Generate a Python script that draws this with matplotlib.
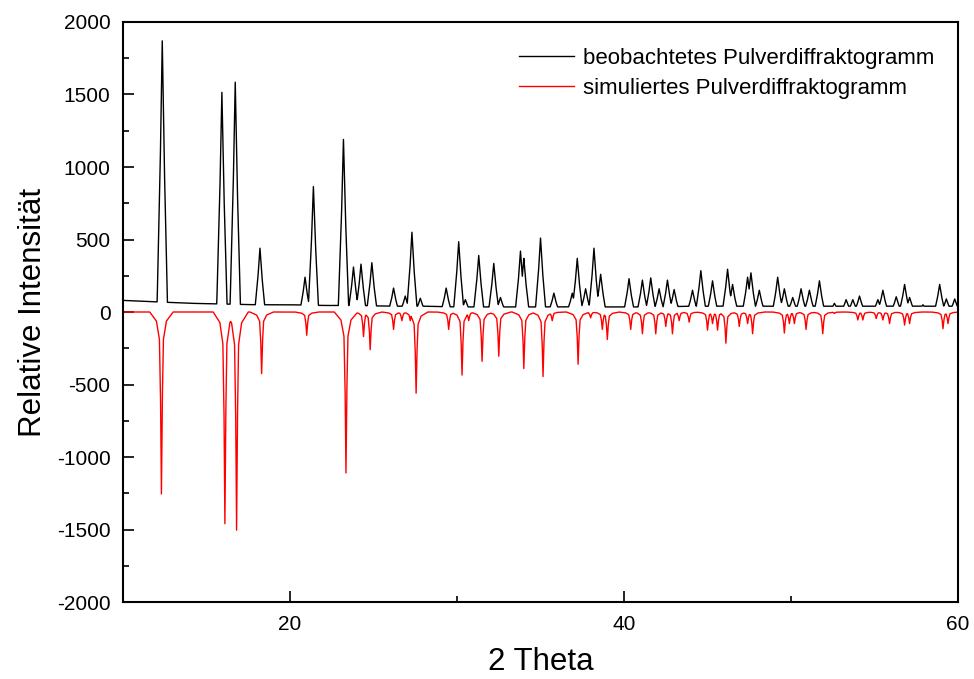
import matplotlib
matplotlib.use("Agg")
import matplotlib.pyplot as plt
import numpy as np

plt.rcParams['font.family'] = ['Liberation Sans', 'DejaVu Sans']
plt.rcParams['axes.unicode_minus'] = False

# observed pattern: peak positions (2 theta) and peak tops (counts)
obs_pos = [12.35, 15.92, 16.72, 18.2, 20.9, 21.4, 23.2, 23.8, 24.25, 24.9, 26.2, 26.9,
           27.3, 27.8, 29.35, 30.1, 30.5, 31.3, 32.2, 32.6, 33.8, 34.0, 35.0, 35.8,
           36.9, 37.2, 37.7, 38.2, 38.6, 40.3, 41.1, 41.6, 42.1, 42.6, 43.0, 44.1,
           44.6, 45.3, 46.2, 46.5, 47.4, 47.6, 48.1, 49.2, 49.6, 50.1, 50.6, 51.1,
           51.7, 52.6, 53.3, 53.7, 54.1, 55.2, 55.5, 56.3, 56.8, 57.1, 57.9, 58.9,
           59.3, 59.8]
obs_int = [1870, 1515, 1585, 440, 240, 865, 1190, 310, 330, 340, 165, 110,
           550, 95, 165, 485, 85, 390, 335, 100, 420, 370, 510, 130,
           130, 370, 160, 440, 260, 230, 220, 235, 160, 220, 155, 150,
           285, 215, 295, 190, 240, 270, 150, 240, 160, 100, 160, 150,
           215, 60, 85, 85, 110, 85, 150, 105, 190, 100, 50, 190,
           90, 90]

# observed background
base_x = [10, 12, 14, 16, 18, 20, 22, 24, 26, 28, 30, 32, 34, 36, 38, 40, 42, 44,
          46, 48, 50, 52, 54, 56, 58, 60]
base_y = [80, 70, 60, 55, 50, 50, 45, 45, 40, 40, 35, 35, 35, 35, 35, 35, 35, 40,
          40, 40, 40, 40, 40, 40, 40, 40]

# simulated pattern (plotted downwards)
sim_pos = [12.3, 16.1, 16.8, 18.3, 21.0, 23.35, 24.4, 24.8, 26.2, 26.7, 27.2, 27.55,
           29.5, 30.3, 30.7, 31.5, 32.5, 34.0, 35.15, 35.7, 37.25, 38.0, 38.7, 39.0,
           40.4, 41.1, 41.9, 42.5, 42.9, 43.3, 43.9, 45.0, 45.3, 45.6, 46.1, 46.9,
           47.4, 47.7, 49.6, 49.9, 50.2, 50.9, 51.9, 52.6, 54.0, 54.3, 55.1, 55.5,
           55.9, 56.8, 57.1, 59.1, 59.4]
sim_int = [-1255, -1460, -1505, -425, -160, -1110, -170, -260, -120, -60, -60, -560,
           -120, -435, -60, -340, -305, -390, -445, -60, -360, -40, -120, -190,
           -120, -150, -150, -100, -150, -60, -70, -125, -80, -125, -215, -100,
           -80, -150, -145, -80, -80, -120, -150, -10, -55, -55, -45, -55,
           -80, -90, -80, -115, -80]

x = np.arange(10, 60.001, 0.01)

# peak outlines
obs_dx = np.array([-0.32, -0.12, 0, 0.12, 0.32])
obs_f = np.array([0, 0.55, 1, 0.55, 0])
sim_dx = np.array([-0.7, -0.3, -0.12, -0.05, 0, 0.05, 0.12, 0.3, 0.7])
sim_f = np.array([0, 0.05, 0.15, 0.5, 1, 0.5, 0.15, 0.05, 0])

y_obs = np.interp(x, base_x, base_y)
for p, h in zip(obs_pos, obs_int):
    y_obs = np.maximum(y_obs, np.interp(x, p + obs_dx, h * obs_f))

y_sim = np.zeros_like(x)
for p, h in zip(sim_pos, sim_int):
    y_sim = np.minimum(y_sim, np.interp(x, p + sim_dx, h * sim_f))

fig = plt.figure(figsize=(9.74, 6.79), dpi=100)
ax = fig.add_axes([0.1263, 0.1134, 0.8573, 0.8542])

ax.plot(x, y_obs, color='black', lw=1.0, label='beobachtetes Pulverdiffraktogramm')
ax.plot(x, y_sim, color='red', lw=1.0, label='simuliertes Pulverdiffraktogramm')

ax.set_xlim(10, 60)
ax.set_ylim(-2000, 2000)
ax.set_xticks([20, 40, 60])
ax.set_xticks([30, 50], minor=True)
ax.set_yticks(np.arange(-2000, 2001, 500))
ax.set_yticks(np.arange(-1750, 2000, 500), minor=True)
ax.tick_params(which='both', direction='in', width=1.2, labelsize=15, pad=9)
ax.tick_params(which='major', length=8)
ax.tick_params(which='minor', length=4)
for s in ax.spines.values():
    s.set_linewidth(1.5)

ax.set_xlabel('2 Theta', fontsize=22.5, labelpad=10)
ax.set_ylabel('Relative Intensität', fontsize=22.5, labelpad=6)

ax.legend(loc='upper right', bbox_to_anchor=(0.985, 0.975), frameon=False,
          fontsize=16, handlelength=2.5, handletextpad=0.4, labelspacing=0.42,
          borderpad=0)

fig.savefig('out.png', dpi=100)
